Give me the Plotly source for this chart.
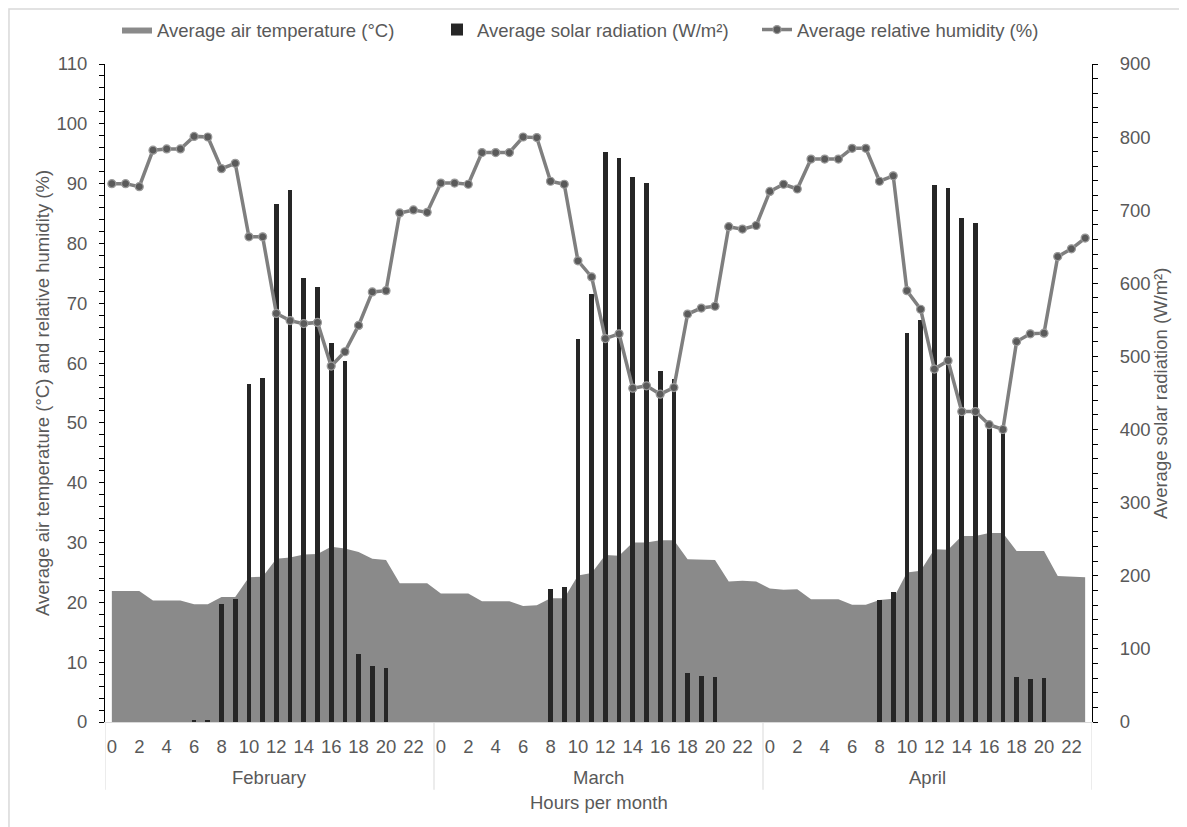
import plotly.graph_objects as go

months = ["February", "March", "April"]
hours = list(range(24))
hour_tick_labels = [str(h) for h in range(0, 24, 2)]

temperature = [
    21.9, 21.9, 21.9, 20.3, 20.3, 20.3, 19.7, 19.7, 20.9, 20.9, 24.2, 24.3,
    27.3, 27.5, 28.0, 28.1, 29.3, 29.0, 28.4, 27.3, 27.1, 23.2, 23.2, 23.2,
    21.5, 21.5, 21.5, 20.2, 20.2, 20.2, 19.4, 19.5, 20.7, 20.7, 24.5, 24.9,
    27.9, 27.8, 30.0, 30.0, 30.4, 30.4, 27.2, 27.2, 27.1, 23.5, 23.6, 23.5,
    22.3, 22.1, 22.2, 20.5, 20.5, 20.5, 19.6, 19.6, 20.4, 20.6, 25.0, 25.3,
    28.9, 28.8, 31.1, 31.1, 31.6, 31.6, 28.6, 28.6, 28.6, 24.4, 24.3, 24.2,
]

radiation = [
    0, 0, 0, 0, 0, 0, 3, 3, 161, 168, 462, 470,
    708, 727, 607, 595, 518, 494, 93, 76, 74, 0, 0, 0,
    0, 0, 0, 0, 0, 0, 0, 0, 182, 184, 524, 585,
    779, 771, 746, 737, 480, 469, 67, 63, 62, 0, 0, 0,
    0, 0, 0, 0, 0, 0, 0, 0, 167, 178, 532, 550,
    734, 730, 690, 682, 403, 397, 62, 59, 60, 0, 0, 0,
]

humidity = [
    90.0, 90.0, 89.5, 95.6, 95.8, 95.8, 97.9, 97.8, 92.5, 93.4, 81.1, 81.1,
    68.3, 67.1, 66.6, 66.8, 59.5, 61.9, 66.3, 71.9, 72.1, 85.1, 85.6, 85.2,
    90.1, 90.1, 89.9, 95.2, 95.2, 95.2, 97.8, 97.7, 90.4, 89.9, 77.1, 74.4,
    64.1, 64.9, 55.8, 56.2, 54.8, 55.9, 68.2, 69.2, 69.5, 82.8, 82.4, 83.0,
    88.7, 89.9, 89.1, 94.1, 94.1, 94.1, 95.9, 95.9, 90.4, 91.3, 72.1, 69.0,
    59.0, 60.4, 51.9, 51.9, 49.7, 48.9, 63.6, 64.9, 65.0, 77.8, 79.1, 80.9,
]

n = len(months) * len(hours)
x = list(range(n))
labels = [f"{m} {h}" for m in months for h in hours]

FONT = "Liberation Sans, Arial, sans-serif"
TXT = "#595959"
FS = 18.5

fig = go.Figure()
fig.add_trace(go.Scatter(
    x=x, y=temperature, name="Average air temperature (°C)",
    mode="lines", fill="tozeroy", fillcolor="#8a8a8a",
    line=dict(color="#8a8a8a", width=0), yaxis="y", text=labels,
))
fig.add_trace(go.Bar(
    x=x, y=radiation, name="Average solar radiation (W/m²)",
    marker=dict(color="#262626", line=dict(width=0)), width=0.34,
    yaxis="y2", text=labels, textposition="none",
))
fig.add_trace(go.Scatter(
    x=x, y=humidity, name="Average relative humidity (%)",
    mode="lines+markers", line=dict(color="#7f7f7f", width=3.5),
    marker=dict(color="#5a5a5a", size=8, line=dict(color="#9a9a9a", width=1.2)),
    yaxis="y3", text=labels,
))

tickvals = [m * 24 + h for m in range(len(months)) for h in range(0, 24, 2)]
ticktext = hour_tick_labels * len(months)

shapes = []
for b in [-0.5, 23.5, 47.5, 71.5]:
    shapes.append(dict(type="line", xref="x", yref="paper", x0=b, x1=b,
                       y0=0, y1=-0.103, line=dict(color="#d9d9d9", width=1)))
shapes.append(dict(type="rect", xref="paper", yref="paper",
                   x0=-0.0973, x1=1.12, y0=-0.2, y1=1.0836,
                   line=dict(color="#d9d9d9", width=1.5), layer="below"))

annotations = []
for i, m in enumerate(months):
    annotations.append(dict(x=i * 24 + 11.5, y=-0.0836, xref="x", yref="paper",
                            xanchor="center", yanchor="middle",
                            text=m, showarrow=False, font=dict(size=FS, color=TXT, family=FONT)))
annotations.append(dict(x=0.5, y=-0.1216, xref="paper", yref="paper", text="Hours per month",
                        xanchor="center", yanchor="middle",
                        showarrow=False, font=dict(size=FS, color=TXT, family=FONT)))
annotations.append(dict(x=-0.0638, y=0.5, xref="paper", yref="paper", textangle=-90,
                        xanchor="center", yanchor="middle",
                        text="Average air temperature (°C) and relative humidity (%)",
                        showarrow=False, font=dict(size=FS, color=TXT, family=FONT)))
annotations.append(dict(x=1.069, y=0.5, xref="paper", yref="paper", textangle=-90,
                        xanchor="center", yanchor="middle",
                        text="Average solar radiation (W/m²)",
                        showarrow=False, font=dict(size=FS, color=TXT, family=FONT)))

fig.update_layout(
    width=1187, height=827,
    margin=dict(l=97, r=103, t=56, b=113, autoexpand=False),
    paper_bgcolor="white", plot_bgcolor="white",
    font=dict(family=FONT, size=FS, color=TXT),
    showlegend=True,
    legend=dict(orientation="h", xref="container", yref="container",
                x=109 / 1187, xanchor="left", y=1 - 22 / 827, yanchor="middle",
                bgcolor="rgba(0,0,0,0)",
                font=dict(size=FS, color=TXT, family=FONT), traceorder="normal",
                itemwidth=30, entrywidth=275, entrywidthmode="pixels"),
    bargap=0,
    xaxis=dict(range=[-0.5, 71.5], tickvals=tickvals, ticktext=ticktext,
               showline=True, linecolor="#d9d9d9", linewidth=1, ticks="",
               showgrid=False, zeroline=False, ticklabelstandoff=8,
               tickfont=dict(size=FS, color=TXT)),
    yaxis=dict(range=[0, 110], dtick=10, showline=True, linecolor="black", linewidth=1,
               ticks="outside", ticklen=5, tickcolor="black", showgrid=False, zeroline=False,
               minor=dict(dtick=2, ticks="outside", ticklen=5, tickcolor="black"),
               ticklabelstandoff=8, tickfont=dict(size=FS, color=TXT)),
    yaxis2=dict(range=[0, 900], dtick=100, overlaying="y", side="right", showline=True,
                linecolor="black", linewidth=1, ticks="outside", ticklen=5, tickcolor="black",
                showgrid=False, zeroline=False,
                minor=dict(dtick=20, ticks="outside", ticklen=5, tickcolor="black"),
                ticklabelstandoff=18, tickfont=dict(size=FS, color=TXT)),
    yaxis3=dict(range=[0, 110], overlaying="y", visible=False, showgrid=False),
    shapes=shapes,
    annotations=annotations,
)

fig.write_html("out.html")
